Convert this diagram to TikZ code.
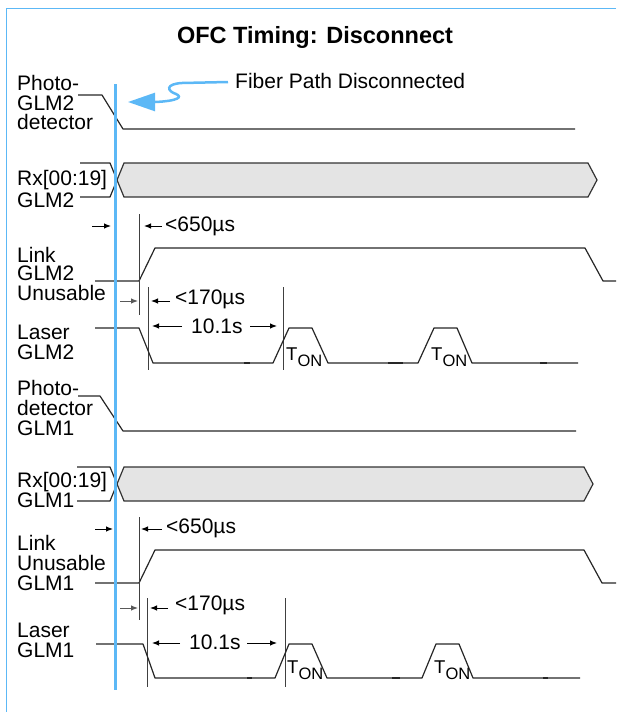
\documentclass[tikz,border=0pt]{standalone}
\usepackage{fontspec}
\setmainfont{Liberation Sans}
\usetikzlibrary{arrows.meta}
\definecolor{azul}{HTML}{5CB8F6}
\definecolor{grisbus}{HTML}{E4E4E4}
\begin{document}
\begin{tikzpicture}[x=1pt,y=-1pt]
\tikzset{
    etiqueta/.style={anchor=base west, inner sep=0pt, font=\fontsize{21}{21}\selectfont},
    tiempo/.style={anchor=base west, inner sep=0pt, font=\fontsize{21}{21}\selectfont},
    senal/.style={line width=1.2pt, black!85, line join=round},
    bus/.style={line width=1.2pt, draw=black!80, fill=grisbus},
    marca/.style={line width=0.9pt, black!75},
    cota/.style={line width=1pt, -{Latex[length=7pt,width=5.5pt]}},
    corte/.style={line width=2.4pt, black!85}
}
\useasboundingbox (0,0) rectangle (616,712);
% marco y titulo
\draw[azul, line width=1.5pt] (6.5,712) -- (6.5,8.5) -- (616,8.5);
\node[anchor=base, inner sep=0pt, font=\fontsize{23.5}{23.5}\selectfont\bfseries] (titulo) at (315,43) {OFC Timing: Disconnect};
\node[etiqueta] (fibra) at (235,88) {Fiber Path Disconnected};

% GLM2
\node[etiqueta] (foto2a) at (17,90) {Photo-};
\node[etiqueta] (foto2b) at (17,110) {GLM2};
\node[etiqueta] (foto2c) at (17,129) {detector};
\draw[senal] (78,95) -- (102,95) -- (123,129) -- (575,129);
\node[etiqueta] (rx2a) at (17,185) {Rx[00:19]};
\node[etiqueta] (rx2b) at (17,207) {GLM2};
\draw[senal] (80,163) -- (110,163) -- (117,180) -- (110,197) -- (80,197);
\draw[bus] (117,180) -- (124,163) -- (588,163) -- (597,180) -- (588,197) -- (124,197) -- cycle;
\node[etiqueta] (link2a) at (17,262) {Link};
\node[etiqueta] (link2b) at (17,280) {GLM2};
\node[etiqueta] (link2c) at (17,300) {Unusable};
\draw[senal] (95,281) -- (139,281) -- (155,248) -- (585,248) -- (603,281) -- (616,281);
\draw[marca] (139,214) -- (139,315);
\draw[cota] (92,226) -- (111,226);
\draw[cota] (162,226) -- (144,226);
\node[tiempo] (t650a) at (165,231) {<650µs};
\draw[cota, black!65] (120,301) -- (138,301);
\draw[marca] (148,287) -- (148,370);
\draw[cota] (170,301) -- (151,301);
\node[tiempo] (t170a) at (175,304) {<170µs};
\draw[cota] (182,326) -- (152,326);
\node[tiempo] (t101a) at (191,333) {10.1s};
\draw[cota] (250,326) -- (277,326);
\draw[marca] (283,287) -- (283,370);
\node[etiqueta] (laser2a) at (17,339) {Laser};
\node[etiqueta] (laser2b) at (17,359) {GLM2};
\draw[senal] (95,328) -- (139,328) -- (153,363) -- (273,363) -- (289,328) -- (312,328) -- (328,363)
    -- (418,363) -- (434,328) -- (457,328) -- (472,363) -- (578,363);
\draw[corte] (244,363) -- (250,363) (388,363) -- (403,363) (540,363) -- (547,363);
\node[tiempo, font=\fontsize{18.5}{18.5}\selectfont] (ton2a) at (286,360) {T\raisebox{-6pt}{\fontsize{16.5}{16.5}\selectfont ON}};
\node[tiempo, font=\fontsize{18.5}{18.5}\selectfont] (ton2b) at (431,360) {T\raisebox{-6pt}{\fontsize{16.5}{16.5}\selectfont ON}};

% GLM1
\node[etiqueta] (foto1a) at (17,395) {Photo-};
\node[etiqueta] (foto1b) at (17,415) {detector};
\node[etiqueta] (foto1c) at (17,435) {GLM1};
\draw[senal] (78,396) -- (100,396) -- (123,431) -- (576,431);
\node[etiqueta] (rx1a) at (17,487) {Rx[00:19]};
\node[etiqueta] (rx1b) at (17,507) {GLM1};
\draw[senal] (77,467) -- (110,467) -- (117,484) -- (110,501) -- (77,501);
\draw[bus] (117,484) -- (124,467) -- (584,467) -- (593,484) -- (584,501) -- (124,501) -- cycle;
\node[etiqueta] (link1a) at (17,550) {Link};
\node[etiqueta] (link1b) at (17,570) {Unusable};
\node[etiqueta] (link1c) at (17,590) {GLM1};
\draw[senal] (95,583) -- (139,583) -- (155,550) -- (584,550) -- (602,583) -- (616,583);
\draw[marca] (139,517) -- (139,620);
\draw[cota] (95,529) -- (113,529);
\draw[cota] (162,529) -- (141,529);
\node[tiempo] (t650b) at (166,533) {<650µs};
\draw[cota, black!65] (120,608) -- (138,608);
\draw[marca] (147,598) -- (147,687);
\draw[cota] (168,608) -- (150,608);
\node[tiempo] (t170b) at (175,610) {<170µs};
\draw[cota] (180,643) -- (152,643);
\node[tiempo] (t101b) at (189,649) {10.1s};
\draw[cota] (247,643) -- (277,643);
\draw[marca] (285,598) -- (285,687);
\node[etiqueta] (laser1a) at (17,637) {Laser};
\node[etiqueta] (laser1b) at (17,657) {GLM1};
\draw[senal] (96,644) -- (143,644) -- (155,678) -- (275,678) -- (289,644) -- (312,644) -- (327,678)
    -- (422,678) -- (436,644) -- (459,644) -- (473,678) -- (580,678);
\draw[corte] (247,678) -- (252,678) (392,678) -- (400,678) (543,678) -- (548,678);
\node[tiempo, font=\fontsize{18.5}{18.5}\selectfont] (ton1a) at (287,673) {T\raisebox{-6pt}{\fontsize{16.5}{16.5}\selectfont ON}};
\node[tiempo, font=\fontsize{18.5}{18.5}\selectfont] (ton1b) at (434,673) {T\raisebox{-6pt}{\fontsize{16.5}{16.5}\selectfont ON}};

% desconexion
\draw[azul, line width=3pt] (115.5,84) -- (115.5,690);
\draw[azul, line width=2.5pt, -{Triangle[length=27pt,width=18pt]}] (228,82) -- (182,83)
    .. controls (165,84) and (167,91) .. (176,94) .. controls (183,97) and (178,101) .. (155,102) -- (128,102);
\end{tikzpicture}
\end{document}
